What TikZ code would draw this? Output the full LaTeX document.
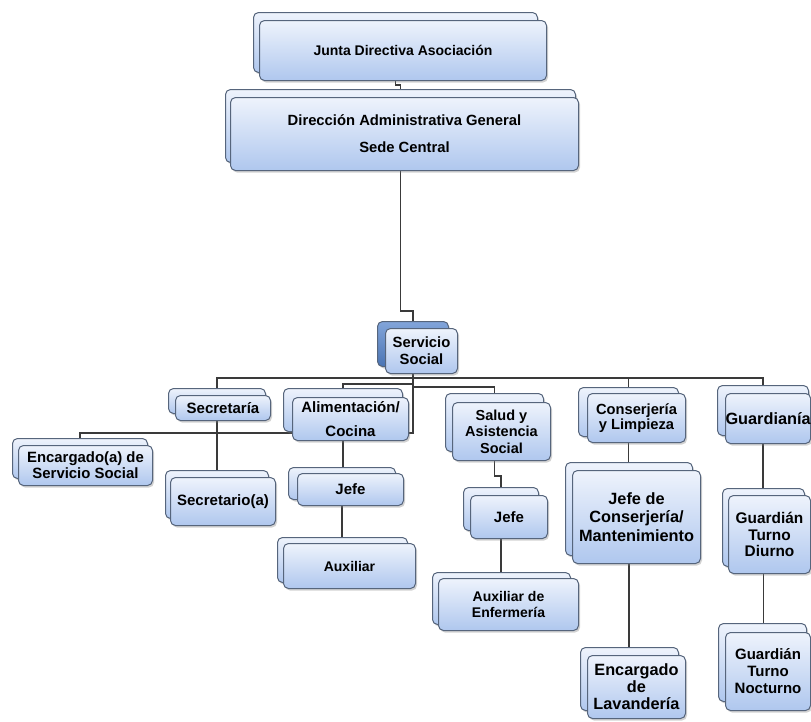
\documentclass[tikz,border=0pt]{standalone}
\usepackage{fontspec}
\setmainfont{Liberation Sans}
\usetikzlibrary{shadows,backgrounds,calc}
\definecolor{boxtop}{HTML}{EEF3FC}
\definecolor{boxbot}{HTML}{AFC7EE}
\definecolor{boxline}{HTML}{56657C}
\definecolor{darktop}{HTML}{82A5DA}
\definecolor{darkbot}{HTML}{4A74B4}
\definecolor{conn}{HTML}{3A3A3A}
\newcommand{\curfs}{\fontsize{14}{16.5}\selectfont}
\newcommand{\setfs}[2]{\renewcommand{\curfs}{\fontsize{#1}{#2}\selectfont}}
\tikzset{
 orgbox/.style={draw=boxline, line width=1pt, rounded corners=5pt, top color=boxtop, bottom color=boxbot,
   drop shadow={shadow xshift=1.5pt, shadow yshift=-2pt, opacity=0.35}, inner sep=0pt, align=center,
   font=\bfseries\curfs},
 backbox/.style={orgbox},
 darkback/.style={orgbox, top color=darktop, bottom color=darkbot},
 link/.style={draw=conn, line width=1.2pt},
}
% name, back x1, back y1, back x2, front x1, front y1, front x2, front y2, text
\newcommand{\orgunit}[9]{%
 \node[backbox, anchor=north west, minimum width={(#4-#2)*1pt}, minimum height={(#8-#6)*1pt}] (#1-b) at (#2,#3) {};
 \node[orgbox, anchor=north west, minimum width={(#7-#5)*1pt}, minimum height={(#8-#6)*1pt}] (#1) at (#5,#6) {#9};
}
\begin{document}
\begin{tikzpicture}[x=1pt,y=-1pt]
\useasboundingbox (0,0) rectangle (811,721);

\setfs{14}{16.5}
\orgunit{junta}{253}{12}{537}{259}{20}{546}{80}{Junta Directiva Asociación}
\setfs{14.8}{17}
\orgunit{dir}{225}{89}{575}{230}{97}{578}{170}{Dirección Administrativa General\\[10pt]Sede Central}
\begin{scope}[backbox/.style={darkback}]
\orgunit{serv}{377}{321}{448}{385}{328}{457}{373}{Servicio\\Social}
\end{scope}
\setfs{15}{17}
\orgunit{sec}{168}{388}{265}{175}{395}{270}{420}{Secretaría}
\orgunit{secr}{165}{470}{268}{170}{477}{275}{525}{Secretario(a)}
\orgunit{ajefe}{288}{467}{395}{297}{473}{403}{505}{Jefe}
\orgunit{sjefe}{463}{487}{538}{470}{495}{547}{538}{Jefe}
\orgunit{noc}{718}{623}{806}{725}{632}{810}{710}{Guardián\\Turno\\Nocturno}
\setfs{14.9}{16}
\orgunit{enc}{12}{438}{147}{18}{445}{152}{485}{Encargado(a) de\\Servicio Social}
\setfs{15}{16}
\orgunit{ali}{283}{388}{402}{292}{397}{408}{440}{Alimentación/\\[7.5pt]Cocina}
\setfs{14}{16.5}
\orgunit{aux}{277}{537}{407}{283}{543}{415}{588}{Auxiliar}
\orgunit{enf}{432}{572}{570}{438}{578}{578}{630}{Auxiliar de\\Enfermería}
\setfs{14.5}{16.5}
\orgunit{sal}{445}{393}{543}{452}{402}{550}{460}{Salud y\\Asistencia\\Social}
\setfs{14.7}{15.5}
\orgunit{con}{578}{387}{678}{587}{393}{685}{442}{Conserjería\\y Limpieza}
\setfs{16.3}{18.5}
\orgunit{cjefe}{565}{462}{692}{572}{470}{700}{563}{Jefe de\\Conserjería/\\Mantenimiento}
\setfs{16.3}{17}
\orgunit{lav}{580}{647}{678}{587}{655}{685}{718}{Encargado\\de\\Lavandería}
\orgunit{gua}{717}{385}{808}{725}{393}{810}{443}{Guardianía}
\setfs{15.4}{16.5}
\orgunit{diu}{722}{488}{804}{728}{495}{810}{573}{Guardián\\Turno\\Diurno}

\begin{pgfonlayer}{background}
\fill[white] (0,0) rectangle (811,721);
\draw[link] (junta-b.south) -- ++(0,12) -| (dir-b.north);
\draw[link] (dir-b.south) -- ++(0,148) -| (serv-b.north);
\draw[link] (serv-b.south) -- ++(0,11) -| (sec-b.north);
\draw[link] (serv-b.south) -- ++(0,11) -| (con-b.north);
\draw[link] (serv-b.south) -- ++(0,11) -| (gua-b.north);
\draw[link] (serv-b.south) -- ++(0,17) -| (ali-b.north);
\draw[link] (serv-b.south) -- ++(0,20) -| (sal-b.north);
\draw[link] (serv-b.south) -- ++(0,66) -| (enc-b.north);
\draw[link] (sec-b.south) -- (sec-b.south |- secr-b.north);
\draw[link] (ali-b.south) -- (ali-b.south |- ajefe-b.north);
\draw[link] (ajefe-b.south) -- (ajefe-b.south |- aux-b.north);
\draw[link] (sal-b.south) -- ++(0,24) -| (sjefe-b.north);
\draw[link] (sjefe-b.south) -- (sjefe-b.south |- enf-b.north);
\draw[link] (con-b.south) -- (con-b.south |- cjefe-b.north);
\draw[link] (cjefe-b.south) -- (cjefe-b.south |- lav-b.north);
\draw[link] (gua-b.south) -- (gua-b.south |- diu-b.north);
\draw[link] (diu-b.south) -- (diu-b.south |- noc-b.north);
\end{pgfonlayer}
\end{tikzpicture}
\end{document}
